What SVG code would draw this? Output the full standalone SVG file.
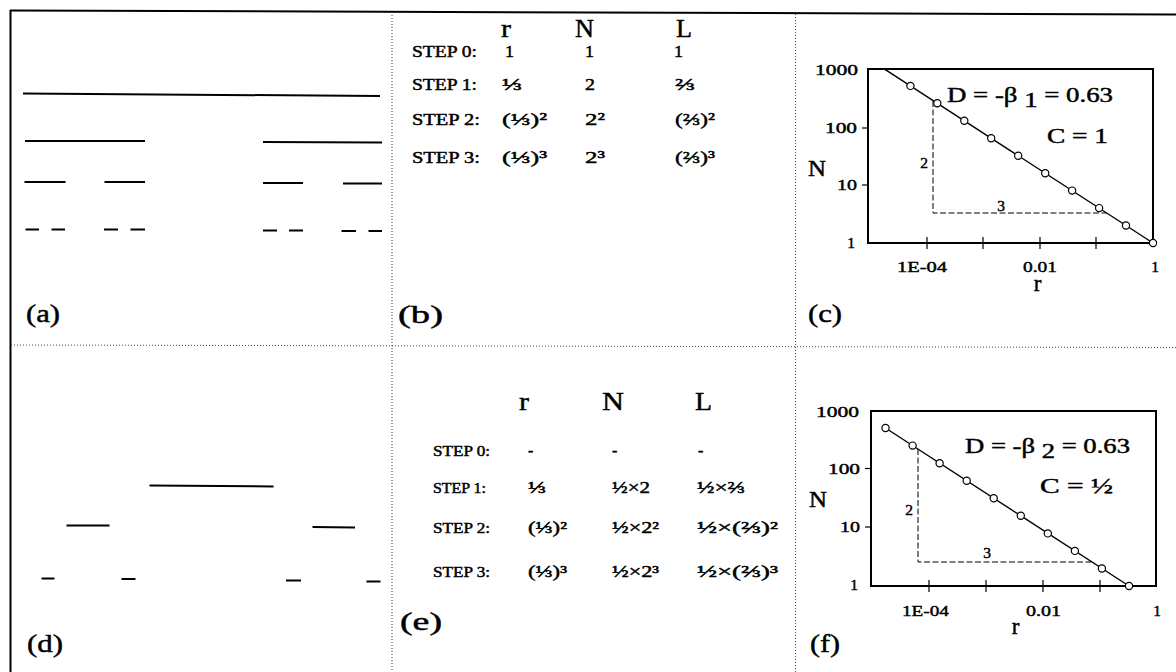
<svg xmlns="http://www.w3.org/2000/svg" width="1176" height="672" viewBox="0 0 1176 672">
  <style>
    text { font-family: "Liberation Serif", "Times New Roman", serif; fill: #000; stroke: #000; stroke-width: 0.45px; }
    .lbl { font-size: 25px; }
    .hdr { font-size: 26px; }
    .step { font-size: 16px; }
    .step2 { font-size: 14.5px; }
    .val { font-size: 17px; }
    .val2 { font-size: 16px; }
    .tick { font-size: 15.5px; }
    .axl { font-size: 23px; }
    .eq { font-size: 20px; }
    .seg { stroke: #000; stroke-width: 2; fill: none; }
    .frame { stroke: #000; stroke-width: 2; fill: none; }
    .div { stroke: #444; stroke-width: 1; stroke-dasharray: 1 2; fill: none; }
    .box { stroke: #000; stroke-width: 2; fill: none; }
    .fit { stroke: #000; stroke-width: 1.4; fill: none; }
    .tk { stroke: #000; stroke-width: 1.2; }
    .dash { stroke: #000; stroke-width: 1; stroke-dasharray: 6 2.5; fill: none; }
    .pt { fill: #fff; stroke: #000; stroke-width: 1.2; }
  </style>

  <!-- outer frame and panel dividers -->
  <g id="frame">
    <line class="frame" x1="10" y1="10.5" x2="1176" y2="14.5"/>
    <line class="frame" x1="10.5" y1="10" x2="10.5" y2="672"/>
    <line class="div" x1="392" y1="12" x2="392" y2="672"/>
    <line class="div" x1="795.5" y1="14" x2="795.5" y2="672"/>
    <line class="div" x1="11" y1="345" x2="1176" y2="347.5"/>
  </g>

  <!-- (a) Cantor set construction -->
  <g id="panel-a">
    <line class="seg" x1="23" y1="93.5" x2="380" y2="96"/>
    <line class="seg" x1="25" y1="141" x2="145" y2="141"/>
    <line class="seg" x1="263" y1="142" x2="382" y2="142.5"/>
    <line class="seg" x1="24.5" y1="182" x2="65.5" y2="182"/>
    <line class="seg" x1="104.5" y1="182" x2="145" y2="182"/>
    <line class="seg" x1="263" y1="183" x2="303" y2="183"/>
    <line class="seg" x1="343" y1="183.5" x2="382" y2="183.5"/>
    <line class="seg" x1="25.5" y1="229.5" x2="39" y2="229.5"/>
    <line class="seg" x1="51.5" y1="229.5" x2="65" y2="229.5"/>
    <line class="seg" x1="104" y1="229.5" x2="118" y2="229.5"/>
    <line class="seg" x1="130.5" y1="229.5" x2="145" y2="229.5"/>
    <line class="seg" x1="263" y1="230.5" x2="277" y2="230.5"/>
    <line class="seg" x1="289" y1="230.5" x2="303" y2="230.5"/>
    <line class="seg" x1="341.5" y1="231" x2="356" y2="231"/>
    <line class="seg" x1="368.5" y1="231" x2="382" y2="231"/>
    <text class="lbl" x="26" y="322" textLength="34" lengthAdjust="spacingAndGlyphs">(a)</text>
  </g>

  <!-- (b) table for the Cantor set -->
  <g id="panel-b">
    <text class="hdr" x="501" y="37" textLength="10" lengthAdjust="spacingAndGlyphs">r</text>
    <text class="hdr" x="575" y="37" textLength="19" lengthAdjust="spacingAndGlyphs">N</text>
    <text class="hdr" x="676" y="37" textLength="16" lengthAdjust="spacingAndGlyphs">L</text>
    <text class="step" x="412" y="57" textLength="65" lengthAdjust="spacingAndGlyphs">STEP 0:</text>
    <text class="step" x="412" y="90" textLength="65" lengthAdjust="spacingAndGlyphs">STEP 1:</text>
    <text class="step" x="412" y="125" textLength="68" lengthAdjust="spacingAndGlyphs">STEP 2:</text>
    <text class="step" x="412" y="163" textLength="68" lengthAdjust="spacingAndGlyphs">STEP 3:</text>
    <text class="val" x="505" y="57" textLength="9" lengthAdjust="spacingAndGlyphs">1</text>
    <text class="val" x="585" y="57" textLength="9" lengthAdjust="spacingAndGlyphs">1</text>
    <text class="val" x="674" y="57" textLength="9" lengthAdjust="spacingAndGlyphs">1</text>
    <text class="val" x="502" y="90" textLength="20" lengthAdjust="spacingAndGlyphs">⅓</text>
    <text class="val" x="585" y="90" textLength="10" lengthAdjust="spacingAndGlyphs">2</text>
    <text class="val" x="675" y="90" textLength="20" lengthAdjust="spacingAndGlyphs">⅔</text>
    <text class="val" x="502" y="125" textLength="45" lengthAdjust="spacingAndGlyphs">(⅓)²</text>
    <text class="val" x="585" y="125" textLength="20" lengthAdjust="spacingAndGlyphs">2²</text>
    <text class="val" x="675" y="125" textLength="40" lengthAdjust="spacingAndGlyphs">(⅔)²</text>
    <text class="val" x="502" y="163" textLength="45" lengthAdjust="spacingAndGlyphs">(⅓)³</text>
    <text class="val" x="585" y="163" textLength="20" lengthAdjust="spacingAndGlyphs">2³</text>
    <text class="val" x="675" y="163" textLength="40" lengthAdjust="spacingAndGlyphs">(⅔)³</text>
    <text class="lbl" x="398" y="323" textLength="45" lengthAdjust="spacingAndGlyphs">(b)</text>
  </g>

  <!-- (c) log-log plot, N versus r -->
  <g id="panel-c">
    <rect class="box" x="868" y="69" width="285" height="174"/>
    <line class="tk" x1="862" y1="128" x2="868" y2="128"/>
    <line class="tk" x1="862" y1="185" x2="868" y2="185"/>
    <line class="tk" x1="927" y1="237" x2="927" y2="249"/>
    <line class="tk" x1="983" y1="237" x2="983" y2="249"/>
    <line class="tk" x1="1040" y1="237" x2="1040" y2="249"/>
    <line class="tk" x1="1096" y1="237" x2="1096" y2="249"/>
    <polyline class="dash" points="933,101 933,213 1106.5,213"/>
    <line class="fit" x1="883.4" y1="68.4" x2="1153" y2="243"/>
    <g>
      <circle class="pt" cx="1153" cy="243" r="3.6"/>
      <circle class="pt" cx="1126" cy="225.5" r="3.6"/>
      <circle class="pt" cx="1099.1" cy="208.1" r="3.6"/>
      <circle class="pt" cx="1072.1" cy="190.6" r="3.6"/>
      <circle class="pt" cx="1045.2" cy="173.2" r="3.6"/>
      <circle class="pt" cx="1018.2" cy="155.7" r="3.6"/>
      <circle class="pt" cx="991.2" cy="138.2" r="3.6"/>
      <circle class="pt" cx="964.3" cy="120.8" r="3.6"/>
      <circle class="pt" cx="937.3" cy="103.3" r="3.6"/>
      <circle class="pt" cx="910.4" cy="85.9" r="3.6"/>
    </g>
    <text class="tick" x="858" y="74.5" text-anchor="end" textLength="43" lengthAdjust="spacingAndGlyphs">1000</text>
    <text class="tick" x="857" y="133" text-anchor="end" textLength="32" lengthAdjust="spacingAndGlyphs">100</text>
    <text class="tick" x="857" y="189.5" text-anchor="end" textLength="20" lengthAdjust="spacingAndGlyphs">10</text>
    <text class="tick" x="855" y="247.5" text-anchor="end">1</text>
    <text class="tick" x="922" y="272" text-anchor="middle" textLength="50" lengthAdjust="spacingAndGlyphs">1E-04</text>
    <text class="tick" x="1040" y="272" text-anchor="middle" textLength="34" lengthAdjust="spacingAndGlyphs">0.01</text>
    <text class="tick" x="1155" y="272" text-anchor="middle">1</text>
    <text class="axl" x="808" y="176" textLength="18" lengthAdjust="spacingAndGlyphs">N</text>
    <text class="axl" x="1037.5" y="291" text-anchor="middle">r</text>
    <text class="tick" x="924" y="168" text-anchor="middle">2</text>
    <text class="tick" x="1001" y="210.5" text-anchor="middle">3</text>
    <text class="eq" x="947" y="102" textLength="166" lengthAdjust="spacingAndGlyphs">D = -β <tspan dy="5">1</tspan><tspan dy="-5"> = 0.63</tspan></text>
    <text class="eq" x="1047" y="143" textLength="61" lengthAdjust="spacingAndGlyphs">C = 1</text>
    <text class="lbl" x="808" y="322" textLength="34" lengthAdjust="spacingAndGlyphs">(c)</text>
  </g>

  <!-- (d) middle-thirds set -->
  <g id="panel-d">
    <line class="seg" x1="149.5" y1="485.5" x2="273.5" y2="486.5"/>
    <line class="seg" x1="66.5" y1="525.5" x2="109.5" y2="525.5"/>
    <line class="seg" x1="312.5" y1="527" x2="355" y2="527.5"/>
    <line class="seg" x1="41.5" y1="578.5" x2="54.5" y2="578.5"/>
    <line class="seg" x1="121.5" y1="579" x2="135.5" y2="579"/>
    <line class="seg" x1="286" y1="580.5" x2="301" y2="580.5"/>
    <line class="seg" x1="366.5" y1="581.5" x2="380.5" y2="581.5"/>
    <text class="lbl" x="27" y="652" textLength="36" lengthAdjust="spacingAndGlyphs">(d)</text>
  </g>

  <!-- (e) table for the middle-thirds set -->
  <g id="panel-e">
    <text class="hdr" x="519" y="410" textLength="10" lengthAdjust="spacingAndGlyphs">r</text>
    <text class="hdr" x="602" y="410" textLength="22" lengthAdjust="spacingAndGlyphs">N</text>
    <text class="hdr" x="695" y="410" textLength="17" lengthAdjust="spacingAndGlyphs">L</text>
    <text class="step2" x="433" y="456" textLength="57" lengthAdjust="spacingAndGlyphs">STEP 0:</text>
    <text class="step2" x="433" y="493" textLength="53" lengthAdjust="spacingAndGlyphs">STEP 1:</text>
    <text class="step2" x="433" y="533" textLength="57" lengthAdjust="spacingAndGlyphs">STEP 2:</text>
    <text class="step2" x="433" y="577" textLength="57" lengthAdjust="spacingAndGlyphs">STEP 3:</text>
    <text class="val2" x="528" y="456">-</text>
    <text class="val2" x="612" y="456">-</text>
    <text class="val2" x="698" y="456">-</text>
    <text class="val2" x="528" y="493" textLength="18" lengthAdjust="spacingAndGlyphs">⅓</text>
    <text class="val2" x="612" y="493" textLength="38" lengthAdjust="spacingAndGlyphs">½×2</text>
    <text class="val2" x="697" y="493" textLength="48" lengthAdjust="spacingAndGlyphs">½×⅔</text>
    <text class="val2" x="528" y="533" textLength="39" lengthAdjust="spacingAndGlyphs">(⅓)²</text>
    <text class="val2" x="612" y="533" textLength="47" lengthAdjust="spacingAndGlyphs">½×2²</text>
    <text class="val2" x="697" y="533" textLength="81" lengthAdjust="spacingAndGlyphs">½×(⅔)²</text>
    <text class="val2" x="528" y="577" textLength="39" lengthAdjust="spacingAndGlyphs">(⅓)³</text>
    <text class="val2" x="612" y="577" textLength="47" lengthAdjust="spacingAndGlyphs">½×2³</text>
    <text class="val2" x="697" y="577" textLength="81" lengthAdjust="spacingAndGlyphs">½×(⅔)³</text>
    <text class="lbl" x="400" y="630" textLength="42" lengthAdjust="spacingAndGlyphs">(e)</text>
  </g>

  <!-- (f) log-log plot for the middle-thirds set -->
  <g id="panel-f">
    <rect class="box" x="871" y="411" width="285" height="175"/>
    <line class="tk" x1="865" y1="468.5" x2="871" y2="468.5"/>
    <line class="tk" x1="865" y1="527" x2="871" y2="527"/>
    <line class="tk" x1="929" y1="580" x2="929" y2="592"/>
    <line class="tk" x1="986" y1="580" x2="986" y2="592"/>
    <line class="tk" x1="1043" y1="580" x2="1043" y2="592"/>
    <line class="tk" x1="1100" y1="580" x2="1100" y2="592"/>
    <polyline class="dash" points="918,449 918,562 1092,562"/>
    <line class="fit" x1="885.5" y1="428" x2="1129" y2="586"/>
    <g>
      <circle class="pt" cx="1129" cy="586" r="3.6"/>
      <circle class="pt" cx="1101.9" cy="568.5" r="3.6"/>
      <circle class="pt" cx="1074.9" cy="550.9" r="3.6"/>
      <circle class="pt" cx="1047.8" cy="533.4" r="3.6"/>
      <circle class="pt" cx="1020.8" cy="515.8" r="3.6"/>
      <circle class="pt" cx="993.7" cy="498.3" r="3.6"/>
      <circle class="pt" cx="966.7" cy="480.7" r="3.6"/>
      <circle class="pt" cx="939.6" cy="463.2" r="3.6"/>
      <circle class="pt" cx="912.6" cy="445.6" r="3.6"/>
      <circle class="pt" cx="885.5" cy="428" r="3.6"/>
    </g>
    <text class="tick" x="859" y="417" text-anchor="end" textLength="43" lengthAdjust="spacingAndGlyphs">1000</text>
    <text class="tick" x="860" y="474" text-anchor="end" textLength="32" lengthAdjust="spacingAndGlyphs">100</text>
    <text class="tick" x="860" y="532" text-anchor="end" textLength="20" lengthAdjust="spacingAndGlyphs">10</text>
    <text class="tick" x="858" y="589.5" text-anchor="end">1</text>
    <text class="tick" x="925.5" y="616" text-anchor="middle" textLength="47" lengthAdjust="spacingAndGlyphs">1E-04</text>
    <text class="tick" x="1043.5" y="616" text-anchor="middle" textLength="35" lengthAdjust="spacingAndGlyphs">0.01</text>
    <text class="tick" x="1157" y="616" text-anchor="middle">1</text>
    <text class="axl" x="809" y="507" textLength="18" lengthAdjust="spacingAndGlyphs">N</text>
    <text class="axl" x="1015.5" y="634" text-anchor="middle">r</text>
    <text class="tick" x="909" y="515" text-anchor="middle">2</text>
    <text class="tick" x="987" y="558" text-anchor="middle">3</text>
    <text class="eq" x="965" y="453" textLength="165" lengthAdjust="spacingAndGlyphs">D = -β <tspan dy="5">2</tspan><tspan dy="-5"> = 0.63</tspan></text>
    <text class="eq" x="1040" y="493" textLength="73" lengthAdjust="spacingAndGlyphs">C = ½</text>
    <text class="lbl" x="810" y="652" textLength="30" lengthAdjust="spacingAndGlyphs">(f)</text>
  </g>
</svg>
